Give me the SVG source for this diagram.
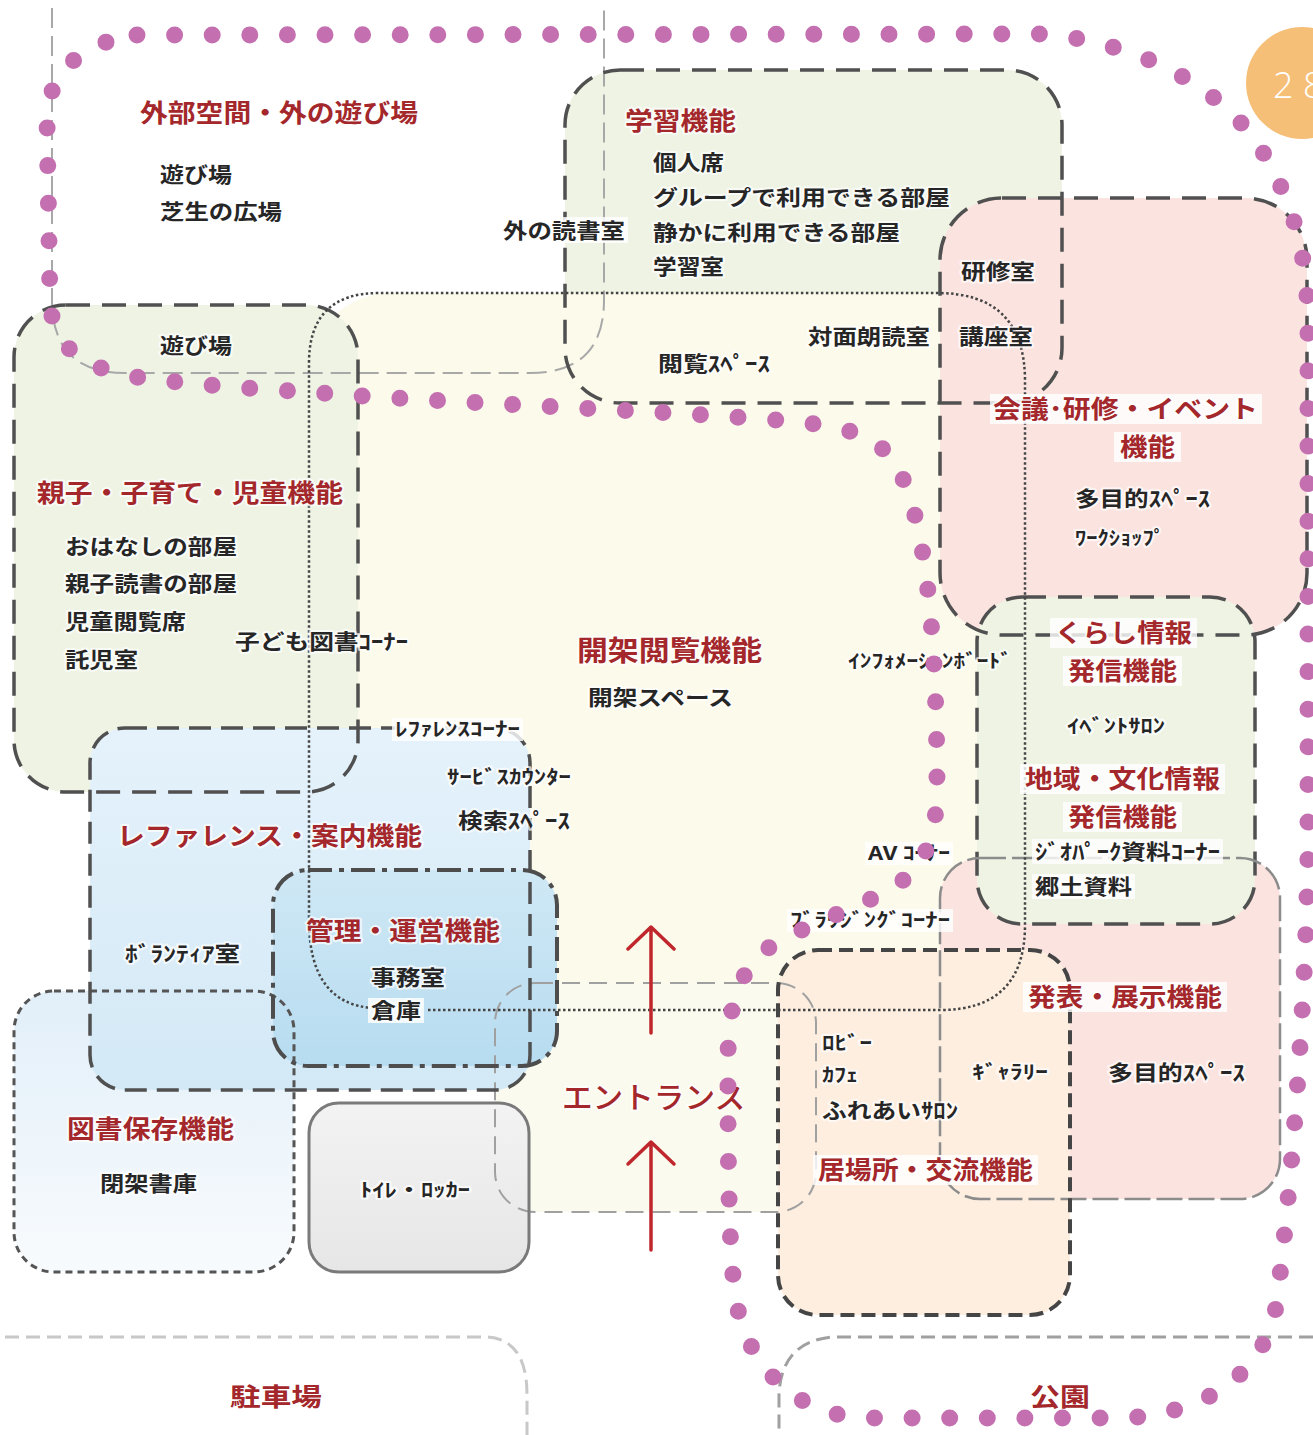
<svg xmlns="http://www.w3.org/2000/svg" xmlns:xlink="http://www.w3.org/1999/xlink" width="1313" height="1435" viewBox="0 0 1313 1435">
<style>
.f-green{fill:#eef3e4}
.f-cream{fill:#fcfaeb}
.f-pink{fill:#fbe3e0}
.f-peach{fill:#fdeedf}
.f-ent{fill:#fbfaee}
.o-long{fill:none;stroke:#505050;stroke-width:3.5;stroke-dasharray:24 12}
.o-ref{fill:none;stroke:#505050;stroke-width:3.5;stroke-dasharray:22 10}
.o-ibasho{fill:none;stroke:#454545;stroke-width:4;stroke-dasharray:14 7}
.o-hozon{fill:none;stroke:#555;stroke-width:3;stroke-dasharray:7 5}
.o-kanri{fill:none;stroke:#4d4d4d;stroke-width:4;stroke-dasharray:24 7 5 7}
.o-happyo{fill:none;stroke:#8c8c8c;stroke-width:2.5;stroke-dasharray:26 6}
.o-ent{fill:none;stroke:#a0a0a0;stroke-width:2;stroke-dasharray:18 9}
.o-toilet{fill:none;stroke:#7a7a7a;stroke-width:3}
.o-dot{fill:none;stroke:#444;stroke-width:2.5;stroke-dasharray:2.5 2.5}
.o-outer{fill:none;stroke:#a8a8a8;stroke-width:2;stroke-dasharray:20 8}
.o-park{fill:none;stroke:#a0a0a0;stroke-width:3;stroke-dasharray:14 7}
.o-lot{fill:none;stroke:#c8c8c8;stroke-width:3;stroke-dasharray:14 7}
.lbg{fill:#fff;fill-opacity:.8}
text{font-family:"Noto Sans CJK JP","Noto Sans",sans-serif;font-weight:700;paint-order:stroke;stroke:#fff;stroke-opacity:.7;stroke-width:4px;stroke-linejoin:round}
.b{fill:#262626;font-size:21px}
.s{fill:#262626;font-size:19px}
.r{fill:#a3272b;font-size:25px}
.arrow{fill:none;stroke:#c0272d;stroke-width:3.5;stroke-linecap:round;stroke-linejoin:round}
.purple{fill:none;stroke:#c46fb0;stroke-width:17;stroke-linecap:round;stroke-dasharray:0 37.6}
</style>
<defs>
<linearGradient id="gRef" x1="0" y1="0" x2="0" y2="1"><stop offset="0" stop-color="#e5f2fb"/><stop offset="1" stop-color="#d3e9f6"/></linearGradient>
<linearGradient id="gKanri" x1="0" y1="0" x2="0" y2="1"><stop offset="0" stop-color="#cfe8f5"/><stop offset="1" stop-color="#b7dcf0"/></linearGradient>
<linearGradient id="gHozon" x1="0" y1="0" x2="0" y2="1"><stop offset="0" stop-color="#e2eff9"/><stop offset="1" stop-color="#f8fbfd"/></linearGradient>
<linearGradient id="gToilet" x1="0" y1="0" x2="0" y2="1"><stop offset="0" stop-color="#f3f3f3"/><stop offset="1" stop-color="#e6e6e6"/></linearGradient>
<rect id="g-gakushu" x="565" y="70" width="497" height="333" rx="55"/>
<rect id="g-kaigi" x="940" y="198" width="367" height="437" rx="62"/>
<rect id="g-oyako" x="14" y="305" width="344" height="487" rx="52"/>
<rect id="g-kaika" x="309" y="293" width="716" height="717" rx="82"/>
<rect id="g-kurashi" x="977" y="597" width="278" height="327" rx="45"/>
<rect id="g-happyo" x="940" y="858" width="340" height="341" rx="40"/>
<rect id="g-entrance" x="495" y="983" width="321" height="229" rx="40"/>
<rect id="g-ibasho" x="778" y="950" width="292" height="365" rx="40"/>
<rect id="g-hozon" x="14" y="991" width="280" height="281" rx="40"/>
<rect id="g-ref" x="90" y="728" width="440" height="362" rx="35"/>
<rect id="g-kanri" x="273" y="870" width="284" height="196" rx="35"/>
<rect id="g-toilet" x="309" y="1103" width="220" height="169" rx="30"/>
</defs>
<rect x="0" y="0" width="1313" height="1435" fill="#ffffff"/>

<g id="fills">
<use href="#g-gakushu" class="f-green"/>
<use href="#g-kaika" class="f-cream"/>
<use href="#g-oyako" class="f-green"/>
<use href="#g-kaigi" class="f-pink"/>
<use href="#g-happyo" class="f-pink"/>
<use href="#g-kurashi" class="f-green"/>
<use href="#g-entrance" class="f-ent"/>
<use href="#g-ibasho" class="f-peach"/>
<use href="#g-hozon" fill="url(#gHozon)"/>
<use href="#g-ref" fill="url(#gRef)"/>
<use href="#g-kanri" fill="url(#gKanri)"/>
<use href="#g-toilet" fill="url(#gToilet)"/>
</g>

<g id="outlines">
<path class="o-outer" d="M52,8 V300 Q52,373 125,373 H530 Q604,373 604,300 V8"/>
<path class="o-lot" d="M5,1337 H488 Q527,1340 527,1395 V1435"/>
<path class="o-park" d="M1313,1337 H832 Q781,1342 779,1395 V1435"/>
<use href="#g-gakushu" class="o-long"/>
<use href="#g-kaigi" class="o-long"/>
<use href="#g-oyako" class="o-long"/>
<use href="#g-kurashi" class="o-long"/>
<use href="#g-happyo" class="o-happyo"/>
<use href="#g-entrance" class="o-ent"/>
<use href="#g-ibasho" class="o-ibasho"/>
<use href="#g-hozon" class="o-hozon"/>
<use href="#g-ref" class="o-ref"/>
<use href="#g-kanri" class="o-kanri"/>
<use href="#g-toilet" class="o-toilet"/>
<path class="o-dot" d="M428,1010 H940 Q1025,1010 1025,925 V381 Q1025,293 937,293 H379 Q309,293 309,363 V920 Q309,1003 372,1008"/>
</g>

<g id="node-outer">
<text class="r" x="140" y="122" textLength="278" lengthAdjust="spacingAndGlyphs">外部空間・外の遊び場</text>
<text class="b" x="160" y="182" textLength="72" lengthAdjust="spacingAndGlyphs">遊び場</text>
<text class="b" x="160" y="219" textLength="122" lengthAdjust="spacingAndGlyphs">芝生の広場</text>
<rect class="lbg" x="500" y="217" width="128" height="26"/>
<text class="b" x="503" y="238" textLength="122" lengthAdjust="spacingAndGlyphs">外の読書室</text>
</g>

<g id="node-gakushu">
<text class="r" x="625" y="130" textLength="111" lengthAdjust="spacingAndGlyphs">学習機能</text>
<text class="b" x="653" y="170" textLength="71" lengthAdjust="spacingAndGlyphs">個人席</text>
<text class="b" x="653" y="205" textLength="297" lengthAdjust="spacingAndGlyphs">グループで利用できる部屋</text>
<text class="b" x="653" y="240" textLength="247" lengthAdjust="spacingAndGlyphs">静かに利用できる部屋</text>
<text class="b" x="653" y="274" textLength="71" lengthAdjust="spacingAndGlyphs">学習室</text>
</g>

<g id="node-kaigi">
<text class="b" x="961" y="279" textLength="74" lengthAdjust="spacingAndGlyphs">研修室</text>
<text class="b" x="959" y="344" textLength="74" lengthAdjust="spacingAndGlyphs">講座室</text>
<rect class="lbg" x="990" y="394" width="272" height="30"/>
<text class="r" x="993" y="418" textLength="265" lengthAdjust="spacingAndGlyphs">会議･研修・イベント</text>
<rect class="lbg" x="1114" y="432" width="67" height="30"/>
<text class="r" x="1120" y="456" textLength="55" lengthAdjust="spacingAndGlyphs">機能</text>
<text class="b" x="1075" y="506" textLength="135" lengthAdjust="spacingAndGlyphs">多目的ｽﾍﾟｰｽ</text>
<text class="s" x="1075" y="545" textLength="90" lengthAdjust="spacingAndGlyphs">ﾜｰｸｼｮｯﾌﾟ</text>
</g>

<g id="node-oyako">
<text class="b" x="160" y="353" textLength="72" lengthAdjust="spacingAndGlyphs">遊び場</text>
<text class="r" x="37" y="502" textLength="306" lengthAdjust="spacingAndGlyphs">親子・子育て・児童機能</text>
<text class="b" x="65" y="554" textLength="172" lengthAdjust="spacingAndGlyphs">おはなしの部屋</text>
<text class="b" x="65" y="591" textLength="172" lengthAdjust="spacingAndGlyphs">親子読書の部屋</text>
<text class="b" x="65" y="629" textLength="121" lengthAdjust="spacingAndGlyphs">児童閲覧席</text>
<text class="b" x="65" y="667" textLength="73" lengthAdjust="spacingAndGlyphs">託児室</text>
<text class="b" x="235" y="649" textLength="173" lengthAdjust="spacingAndGlyphs">子ども図書ｺｰﾅｰ</text>
</g>

<g id="node-kaika">
<text class="b" x="808" y="344" textLength="122" lengthAdjust="spacingAndGlyphs">対面朗読室</text>
<text class="b" x="658" y="371" textLength="112" lengthAdjust="spacingAndGlyphs">閲覧ｽﾍﾟｰｽ</text>
<text class="r" x="577" y="661" style="font-size:28px" textLength="185" lengthAdjust="spacingAndGlyphs">開架閲覧機能</text>
<text class="b" x="588" y="705" textLength="145" lengthAdjust="spacingAndGlyphs">開架スペース</text>
<text class="s" x="848" y="668" textLength="164" lengthAdjust="spacingAndGlyphs">ｲﾝﾌｫﾒｰｼｮﾝﾎﾞｰﾄﾞ</text>
<rect class="lbg" x="865" y="842" width="88" height="23"/>
<text class="s" x="868" y="860" textLength="82" lengthAdjust="spacingAndGlyphs">AV ｺｰﾅｰ</text>
<rect class="lbg" x="787" y="909" width="166" height="23"/>
<text class="s" x="790" y="927" textLength="160" lengthAdjust="spacingAndGlyphs">ﾌﾞﾗｳｼﾞﾝｸﾞｺｰﾅｰ</text>
</g>

<g id="node-kurashi">
<rect class="lbg" x="1050" y="618" width="147" height="30"/>
<text class="r" x="1055" y="642" textLength="137" lengthAdjust="spacingAndGlyphs">くらし情報</text>
<rect class="lbg" x="1063" y="656" width="119" height="30"/>
<text class="r" x="1068" y="680" textLength="109" lengthAdjust="spacingAndGlyphs">発信機能</text>
<text class="s" x="1067" y="733" textLength="98" lengthAdjust="spacingAndGlyphs">ｲﾍﾞﾝﾄｻﾛﾝ</text>
<rect class="lbg" x="1020" y="764" width="205" height="30"/>
<text class="r" x="1025" y="788" textLength="195" lengthAdjust="spacingAndGlyphs">地域・文化情報</text>
<rect class="lbg" x="1063" y="802" width="119" height="30"/>
<text class="r" x="1068" y="826" textLength="109" lengthAdjust="spacingAndGlyphs">発信機能</text>
<rect class="lbg" x="1032" y="839" width="191" height="25"/>
<text class="b" x="1035" y="859" textLength="185" lengthAdjust="spacingAndGlyphs">ｼﾞｵﾊﾟｰｸ資料ｺｰﾅｰ</text>
<rect class="lbg" x="1032" y="874" width="103" height="25"/>
<text class="b" x="1035" y="894" textLength="97" lengthAdjust="spacingAndGlyphs">郷土資料</text>
</g>

<g id="node-ref">
<rect class="lbg" x="392" y="718" width="131" height="23"/>
<text class="s" x="395" y="736" textLength="125" lengthAdjust="spacingAndGlyphs">ﾚﾌｧﾚﾝｽｺｰﾅｰ</text>
<text class="s" x="447" y="784" textLength="124" lengthAdjust="spacingAndGlyphs">ｻｰﾋﾞｽｶｳﾝﾀｰ</text>
<text class="b" x="458" y="828" textLength="112" lengthAdjust="spacingAndGlyphs">検索ｽﾍﾟｰｽ</text>
<text class="r" x="117" y="845" textLength="305" lengthAdjust="spacingAndGlyphs">レファレンス・案内機能</text>
<text class="b" x="125" y="961" textLength="115" lengthAdjust="spacingAndGlyphs">ﾎﾞﾗﾝﾃｨｱ室</text>
</g>

<g id="node-kanri">
<text class="r" x="306" y="940" textLength="194" lengthAdjust="spacingAndGlyphs">管理・運営機能</text>
<text class="b" x="371" y="985" textLength="74" lengthAdjust="spacingAndGlyphs">事務室</text>
<rect class="lbg" x="368" y="998" width="56" height="25"/>
<text class="b" x="371" y="1018" textLength="50" lengthAdjust="spacingAndGlyphs">倉庫</text>
</g>

<g id="node-hozon">
<text class="r" x="67" y="1138" textLength="167" lengthAdjust="spacingAndGlyphs">図書保存機能</text>
<text class="b" x="100" y="1191" textLength="97" lengthAdjust="spacingAndGlyphs">閉架書庫</text>
</g>

<g id="node-toilet">
<text class="s" x="360" y="1197" textLength="110" lengthAdjust="spacingAndGlyphs">ﾄｲﾚ・ﾛｯｶｰ</text>
</g>

<g id="node-entrance">
<text class="r" x="562" y="1108" style="font-size:30px;font-weight:500" textLength="183" lengthAdjust="spacingAndGlyphs">エントランス</text>
</g>

<g id="node-happyo">
<rect class="lbg" x="1023" y="982" width="204" height="30"/>
<text class="r" x="1028" y="1006" textLength="194" lengthAdjust="spacingAndGlyphs">発表・展示機能</text>
<text class="s" x="972" y="1079" textLength="76" lengthAdjust="spacingAndGlyphs">ｷﾞｬﾗﾘｰ</text>
<text class="b" x="1108" y="1080" textLength="137" lengthAdjust="spacingAndGlyphs">多目的ｽﾍﾟｰｽ</text>
</g>

<g id="node-ibasho">
<text class="s" x="822" y="1050" textLength="50" lengthAdjust="spacingAndGlyphs">ﾛﾋﾞｰ</text>
<text class="s" x="822" y="1082" textLength="36" lengthAdjust="spacingAndGlyphs">ｶﾌｪ</text>
<text class="b" x="822" y="1118" textLength="136" lengthAdjust="spacingAndGlyphs">ふれあいｻﾛﾝ</text>
<rect class="lbg" x="813" y="1155" width="225" height="30"/>
<text class="r" x="818" y="1179" textLength="215" lengthAdjust="spacingAndGlyphs">居場所・交流機能</text>
</g>

<g id="node-parking">
<text class="r" x="230" y="1406" textLength="92" lengthAdjust="spacingAndGlyphs">駐車場</text>
</g>

<g id="node-park">
<text class="r" x="1030" y="1406" textLength="60" lengthAdjust="spacingAndGlyphs">公園</text>
</g>

<g id="connectors">
<path class="arrow" d="M651,1033 V927 M628,949 L651,927 L674,949"/>
<path class="arrow" d="M651,1250 V1142 M628,1164 L651,1142 L674,1164"/>
</g>

<g id="loop">
<path class="purple" d="M137,35 L1040,34 C1130,40 1230,85 1270,165 C1300,220 1308,270 1308,330 L1308,850 C1306,1000 1292,1180 1277,1300 C1268,1370 1210,1412 1128,1418 L865,1418 C800,1416 748,1370 736,1300 C728,1250 728,1150 728,1060 C728,1000 740,962 784,938 L880,895 C925,872 936,840 937,790 C937,650 928,520 896,465 C880,440 860,430 808,423 C700,412 450,403 320,393 C230,387 160,382 125,375 C80,365 52,345 50,300 L47,120 C47,75 80,42 137,35 Z"/>
</g>

<g id="badge">
<circle cx="1302" cy="83" r="56" fill="#f6bf78"/>
<text x="1273" y="98" style="font-family:'Open Sans','Liberation Sans',sans-serif;font-weight:300;font-size:36px;fill:#ffffff;stroke:none">2 8</text>
</g>
</svg>
